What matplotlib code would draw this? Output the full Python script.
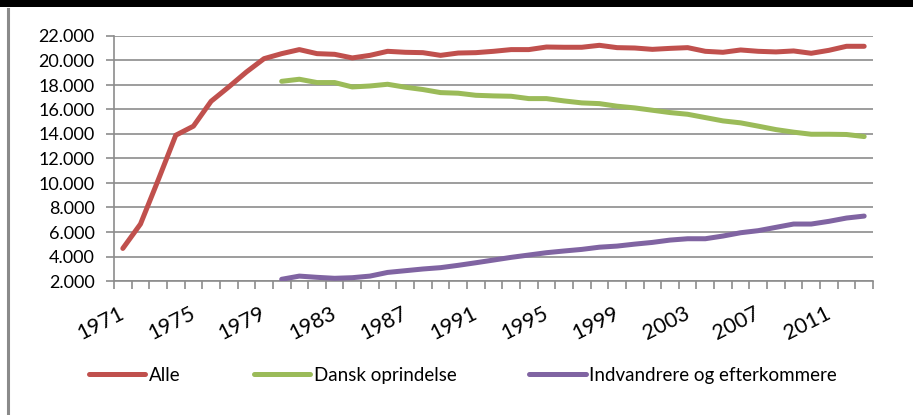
import matplotlib
matplotlib.use("Agg")
import matplotlib.pyplot as plt
import matplotlib.transforms as mtransforms
from matplotlib.patches import Rectangle
from matplotlib.lines import Line2D
from matplotlib.ticker import FuncFormatter, FixedLocator

years = list(range(1971, 2014))
alle = [4660, 6650, 10230, 13900, 14640, 16670, 17840, 19060, 20150, 20560,
        20890, 20560, 20505, 20210, 20420, 20750, 20670, 20640, 20420, 20610,
        20640, 20750, 20890, 20890, 21100, 21080, 21080, 21240, 21050, 21020,
        20910, 20990, 21050, 20750, 20670, 20860, 20750, 20700, 20780, 20590,
        20830, 21160, 21160]
dansk_years = list(range(1980, 2014))
dansk = [18300, 18470, 18200, 18200, 17840, 17920, 18060, 17820, 17630, 17380,
         17330, 17160, 17110, 17080, 16890, 16890, 16700, 16540, 16480, 16270,
         16130, 15940, 15750, 15610, 15340, 15070, 14910, 14640, 14360, 14150,
         13980, 13980, 13960, 13790]
indv = [2140, 2400, 2300, 2220, 2270, 2400, 2700, 2840, 2980, 3090,
        3280, 3490, 3710, 3930, 4120, 4310, 4450, 4580, 4760, 4850,
        5010, 5150, 5340, 5450, 5450, 5670, 5940, 6110, 6380, 6650,
        6650, 6870, 7140, 7300]
series_names = ["Alle", "Dansk oprindelse", "Indvandrere og efterkommere"]
colors = ["#C0504D", "#9BBB59", "#8064A2"]
label_years = list(range(1971, 2012, 4))
y_ticks = list(range(2000, 22001, 2000))

plt.rcParams['font.family'] = ['Lato', 'DejaVu Sans']

W, H = 913, 415
fig = plt.figure(figsize=(W / 100, H / 100), dpi=100)
fig.patch.set_facecolor("white")

# frame decorations
fig.patches.append(Rectangle((0, 1 - 7 / H), 1, 7 / H, transform=fig.transFigure,
                             facecolor="black", edgecolor="none", zorder=0))
fig.add_artist(Line2D([7.5 / W, 7.5 / W], [0, 1 - 9 / H], transform=fig.transFigure,
                      color="#8a8a8a", lw=2.2))

left, right, top, bottom = 114, 873, 36, 281
ax = fig.add_axes([left / W, 1 - bottom / H, (right - left) / W, (bottom - top) / H])

gc = "#8c8c8c"
lw = 3.6
ax.plot(years, alle, color=colors[0], lw=lw, solid_capstyle="round", solid_joinstyle="round", zorder=3)
ax.plot(dansk_years, dansk, color=colors[1], lw=lw, solid_capstyle="round", solid_joinstyle="round", zorder=3)
ax.plot(dansk_years, indv, color=colors[2], lw=lw, solid_capstyle="round", solid_joinstyle="round", zorder=3)

ax.set_xlim(years[0] - 0.5, years[-1] + 0.5)
ax.set_ylim(y_ticks[0], y_ticks[-1])

ax.set_yticks(y_ticks)
ax.yaxis.set_major_formatter(FuncFormatter(lambda v, p: f"{int(v):,}".replace(",", ".")))
ax.grid(axis="y", color=gc, lw=1.2)
ax.set_axisbelow(True)

ax.xaxis.set_major_locator(FixedLocator(label_years))
ax.set_xticklabels([str(y) for y in label_years], rotation=27, ha="right", va="top")
ax.xaxis.set_minor_locator(FixedLocator([y - 0.5 for y in years] + [years[-1] + 0.5]))
ax.tick_params(axis="x", which="major", length=0, pad=16, labelsize=15.5, labelcolor="black")
ax.tick_params(axis="x", which="minor", length=6, width=1.2, color=gc, direction="out")
ax.tick_params(axis="y", length=6, width=1.2, color=gc, pad=8, labelsize=13)
shift = mtransforms.ScaledTranslation(5 / 100, 0, fig.dpi_scale_trans)
for lab in ax.get_xticklabels():
    lab.set_transform(lab.get_transform() + shift)

for s in ["top", "right"]:
    ax.spines[s].set_visible(False)
for s in ["left", "bottom"]:
    ax.spines[s].set_color(gc)
    ax.spines[s].set_linewidth(1.2)

handles = [Line2D([], [], color=c, lw=lw, solid_capstyle="round") for c in colors]
fig.legend(handles, series_names, loc="center", bbox_to_anchor=(463 / W, 1 - 375 / H),
           ncol=3, frameon=False, fontsize=13.5, handlelength=3.0, handletextpad=0.2,
           columnspacing=3.9)

fig.savefig("out.png", dpi=100, facecolor="white")
